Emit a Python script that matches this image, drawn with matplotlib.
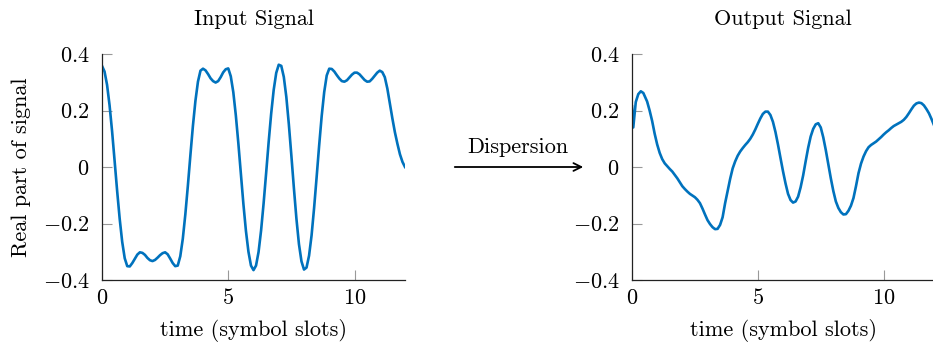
import matplotlib
matplotlib.use("Agg")
import matplotlib.pyplot as plt
from matplotlib.patches import FancyArrowPatch
from matplotlib.ticker import FuncFormatter

plt.rcParams['font.family'] = 'serif'
plt.rcParams['font.serif'] = ['cmr10']
plt.rcParams['mathtext.fontset'] = 'cm'
plt.rcParams['axes.formatter.use_mathtext'] = True

# Input signal (every 0.1 symbol slot)
t_in = [i / 10 for i in range(121)]
v_in = [0.358, 0.338, 0.291, 0.218, 0.126, 0.021, -0.085, -0.183, -0.265, -0.323,
        -0.351, -0.352, -0.340, -0.325, -0.310, -0.302, -0.304, -0.311, -0.322, -0.330,
        -0.333, -0.329, -0.321, -0.312, -0.305, -0.302, -0.309, -0.324, -0.340, -0.351,
        -0.349, -0.316, -0.254, -0.168, -0.067, 0.041, 0.145, 0.234, 0.302, 0.341,
        0.348, 0.342, 0.329, 0.314, 0.304, 0.299, 0.304, 0.318, 0.335, 0.346,
        0.349, 0.321, 0.265, 0.183, 0.084, -0.024, -0.131, -0.226, -0.300, -0.349,
        -0.365, -0.349, -0.301, -0.225, -0.129, -0.022, 0.088, 0.189, 0.273, 0.333,
        0.362, 0.358, 0.319, 0.248, 0.151, 0.040, -0.075, -0.183, -0.273, -0.334,
        -0.363, -0.356, -0.314, -0.242, -0.145, -0.036, 0.076, 0.180, 0.265, 0.324,
        0.348, 0.347, 0.338, 0.325, 0.313, 0.304, 0.302, 0.307, 0.317, 0.327,
        0.334, 0.334, 0.328, 0.318, 0.308, 0.302, 0.303, 0.312, 0.323, 0.334,
        0.341, 0.336, 0.318, 0.278, 0.225, 0.172, 0.123, 0.082, 0.045, 0.018, 0.0]

# Output signal after dispersion
t_out = [0.0, 0.05, 0.15, 0.25, 0.35, 0.45] + [i / 10 for i in range(5, 121)]
v_out = [0.215, 0.140, 0.230, 0.258, 0.268, 0.262,
         0.252, 0.232, 0.200, 0.163, 0.118,
         0.080, 0.050, 0.028, 0.013, 0.003, -0.007, -0.016, -0.028, -0.040, -0.054,
         -0.068, -0.078, -0.087, -0.095, -0.101, -0.107, -0.116, -0.128, -0.147, -0.168,
         -0.188, -0.202, -0.213, -0.220, -0.219, -0.205, -0.178, -0.128, -0.085, -0.042,
         -0.005, 0.020, 0.040, 0.055, 0.067, 0.078, 0.088, 0.100, 0.115, 0.133,
         0.153, 0.172, 0.188, 0.196, 0.196, 0.184, 0.160, 0.124, 0.080, 0.032,
         -0.015, -0.058, -0.095, -0.117, -0.126, -0.122, -0.105, -0.072, -0.030, 0.020,
         0.068, 0.108, 0.135, 0.151, 0.155, 0.140, 0.105, 0.060, 0.010, -0.040,
         -0.085, -0.122, -0.145, -0.160, -0.168, -0.167, -0.155, -0.137, -0.110, -0.068,
         -0.022, 0.012, 0.037, 0.056, 0.070, 0.078, 0.084, 0.090, 0.098, 0.106,
         0.115, 0.123, 0.130, 0.138, 0.145, 0.150, 0.155, 0.160, 0.167, 0.177,
         0.190, 0.204, 0.217, 0.225, 0.228, 0.226, 0.218, 0.205, 0.190, 0.170, 0.148]

xticks = [0, 5, 10]
yticks = [-0.4, -0.2, 0, 0.2, 0.4]
blue = '#0072BD'
fs = 16

fig = plt.figure(figsize=(9.33, 3.43), dpi=100)
ax1 = fig.add_axes([102 / 933, 63 / 343, 303 / 933, 226 / 343])
ax2 = fig.add_axes([632 / 933, 63 / 343, 302 / 933, 226 / 343])

fmt = FuncFormatter(lambda x, pos: '$%g$' % round(x, 2))

for ax, t, v, title in [(ax1, t_in, v_in, 'Input Signal'), (ax2, t_out, v_out, 'Output Signal')]:
    ax.plot(t, v, color=blue, linewidth=1.9, solid_joinstyle='round')
    ax.set_xlim(0, 12)
    ax.set_ylim(-0.4, 0.4)
    ax.set_xticks(xticks)
    ax.set_yticks(yticks)
    ax.xaxis.set_major_formatter(fmt)
    ax.yaxis.set_major_formatter(fmt)
    ax.spines['top'].set_visible(False)
    ax.spines['right'].set_visible(False)
    for s in ['left', 'bottom']:
        ax.spines[s].set_linewidth(0.9)
        ax.spines[s].set_color('#222222')
    ax.tick_params(direction='in', length=7, width=0.8, color='#999999', labelsize=fs)
    ax.tick_params(axis='y', pad=9)
    ax.tick_params(axis='x', pad=6)
    ax.set_title(title, fontsize=fs, pad=21)
    ax.set_xlabel('time (symbol slots)', fontsize=fs, labelpad=7.5)

ax1.set_ylabel('Real part of signal', fontsize=fs, labelpad=8)

# Arrow between the panels
fig.patches.append(FancyArrowPatch(
    (452 / 933, 1 - 167 / 343), (586 / 933, 1 - 167 / 343), transform=fig.transFigure,
    arrowstyle='->', mutation_scale=14, linewidth=1.3, color='black'))
fig.text(518 / 933, 1 - 147 / 343, 'Dispersion', ha='center', va='center', fontsize=fs)

fig.savefig('out.png', dpi=100)
